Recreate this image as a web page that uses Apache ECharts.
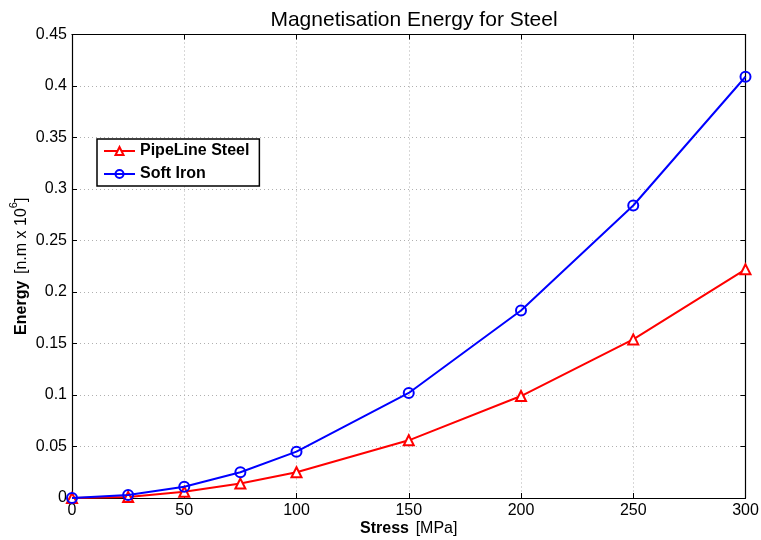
<!DOCTYPE html>
<html>
<head>
<meta charset="utf-8">
<script src="https://cdn.jsdelivr.net/npm/echarts@6/dist/echarts.min.js"></script>
<style>
  html, body { margin: 0; padding: 0; background: #fff; }
  #chart { width: 761px; height: 540px; }
</style>
</head>
<body>
<div id="chart"></div>
<script>
// Applied stress levels [MPa]
const stress = [0, 25, 50, 75, 100, 150, 200, 250, 300];
// Magnetisation energy [n.m x 10^6]
const pipelineSteel = [0, 0.001, 0.006, 0.014, 0.025, 0.056, 0.099, 0.154, 0.222];
const softIron = [0, 0.003, 0.011, 0.025, 0.045, 0.102, 0.182, 0.284, 0.409];
const seriesNames = ['PipeLine Steel', 'Soft Iron'];

const FONT = 'Liberation Sans, Arial, Helvetica, sans-serif';

const chart = echarts.init(document.getElementById('chart'), null, { renderer: 'canvas' });

const pairs = (ys) => stress.map((x, i) => [x, ys[i]]);

const gridLine = { show: true, lineStyle: { color: '#b0b0b0', type: [1, 3], width: 1 } };
const frameLine = { show: true, onZero: false, lineStyle: { color: '#000', width: 1.2 } };
const innerTick = { show: true, inside: true, length: 5, lineStyle: { color: '#000', width: 1 } };

chart.setOption({
  animation: false,
  backgroundColor: '#fff',
  title: {
    text: 'Magnetisation Energy for Steel',
    left: 409, top: 5, textAlign: 'center',
    textStyle: { fontFamily: FONT, fontSize: 21, fontWeight: 'normal', color: '#000' }
  },
  grid: { left: 72, right: 15.5, top: 34.5, bottom: 42, containLabel: false, outerBoundsMode: 'none' },
  legend: {
    data: seriesNames,
    orient: 'vertical',
    left: 97, top: 139,
    padding: [4, 10, 4, 6],
    itemGap: 7,
    itemWidth: 31, itemHeight: 10,
    backgroundColor: '#fff',
    borderColor: '#000', borderWidth: 1.5,
    textStyle: { fontFamily: FONT, fontSize: 16, fontWeight: 'bold', color: '#000' }
  },
  xAxis: [{
    type: 'value', min: 0, max: 300, interval: 50,
    name: '{b|Stress}  {n|[MPa]}',
    nameLocation: 'middle', nameGap: 23, nameMoveOverlap: false,
    nameTextStyle: {
      rich: {
        b: { fontFamily: FONT, fontSize: 16, fontWeight: 'bold', color: '#000' },
        n: { fontFamily: FONT, fontSize: 16, color: '#000' }
      }
    },
    axisLine: frameLine, axisTick: innerTick, splitLine: gridLine,
    axisLabel: { fontFamily: FONT, fontSize: 16, color: '#000', margin: 5 }
  }, {
    type: 'value', position: 'top', min: 0, max: 300, interval: 50,
    axisLine: frameLine, axisTick: innerTick, splitLine: { show: false },
    axisLabel: { show: false }
  }],
  yAxis: [{
    type: 'value', min: 0, max: 0.45, interval: 0.05,
    name: '{b|Energy}  {n|[n.m x 10}{s|6}{n|]}',
    nameLocation: 'middle', nameGap: 42, nameRotate: 90, nameMoveOverlap: false,
    nameTextStyle: {
      padding: [0, 0, 0, 0],
      rich: {
        b: { fontFamily: FONT, fontSize: 16, fontWeight: 'bold', color: '#000', lineHeight: 22, verticalAlign: 'bottom' },
        n: { fontFamily: FONT, fontSize: 16, color: '#000', lineHeight: 22, verticalAlign: 'bottom' },
        s: { fontFamily: FONT, fontSize: 11, color: '#000', lineHeight: 12, verticalAlign: 'top' }
      }
    },
    axisLine: frameLine, axisTick: innerTick, splitLine: gridLine,
    axisLabel: { fontFamily: FONT, fontSize: 16, color: '#000', margin: 5 }
  }, {
    type: 'value', position: 'right', min: 0, max: 0.45, interval: 0.05,
    axisLine: frameLine, axisTick: innerTick, splitLine: { show: false },
    axisLabel: { show: false }
  }],
  series: [{
    name: seriesNames[0],
    type: 'line',
    data: pairs(pipelineSteel),
    color: '#ff0000',
    lineStyle: { width: 2, color: '#ff0000' },
    symbol: 'triangle', symbolSize: 10,
    itemStyle: { color: '#fff', borderColor: '#ff0000', borderWidth: 2 },
    z: 3
  }, {
    name: seriesNames[1],
    type: 'line',
    data: pairs(softIron),
    color: '#0000ff',
    lineStyle: { width: 2, color: '#0000ff' },
    symbol: 'circle', symbolSize: 10,
    itemStyle: { color: 'rgba(255,255,255,0)', borderColor: '#0000ff', borderWidth: 2 },
    z: 4
  }]
});
</script>
</body>
</html>
